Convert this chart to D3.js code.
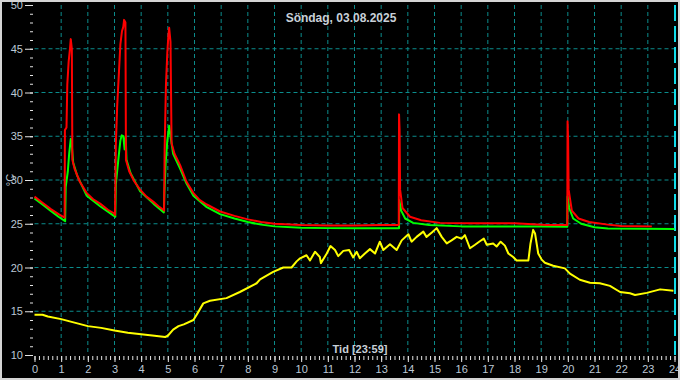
<!DOCTYPE html>
<html>
<head>
<meta charset="utf-8">
<script src="https://cdn.jsdelivr.net/npm/d3@7"></script>
<style>
  html, body { margin: 0; padding: 0; background: #000; }
  svg { display: block; }
</style>
</head>
<body>
<div id="chart-area"></div>
<script>
// time in hours, temperature in °C
const redT = [0, 0.3, 0.6, 0.9, 1.13, 1.14, 1.2, 1.23, 1.28, 1.33, 1.36, 1.40, 1.42, 1.5, 1.7, 1.96, 2.2, 2.46, 2.75, 2.98,
  3.02, 3.05, 3.10, 3.17, 3.22, 3.28, 3.33, 3.36, 3.41, 3.43, 3.55, 3.75, 3.96, 4.2, 4.46, 4.65, 4.83,
  4.86, 4.88, 4.93, 4.98, 5.02, 5.05, 5.10, 5.14, 5.25, 5.46, 5.7, 5.96, 6.2, 6.46, 6.96, 7.5, 8, 8.5, 9, 10, 11, 12, 13, 13.66,
  13.67, 13.69, 13.71, 13.8, 14.08, 14.5, 15.2, 16.3, 17, 18, 19.2, 19.98,
  19.99, 20.01, 20.03, 20.15, 20.4, 20.8, 21.5, 22, 23.15];
const redV = [28.1, 27.4, 26.7, 26.1, 25.7, 35.7, 36.0, 40.9, 43.5, 45.0, 46.1, 45.0, 32.3, 31.3, 29.8, 28.5, 27.8, 27.3, 26.6, 26.2,
  26.0, 34.0, 38.4, 42.5, 45.5, 47.0, 47.5, 48.3, 48.0, 32.3, 31.0, 29.8, 28.9, 28.1, 27.5, 27.0, 26.6,
  26.5, 33.5, 40.9, 44.5, 46.5, 47.4, 45.8, 34.2, 33.0, 31.7, 29.8, 28.5, 27.7, 27.2, 26.4, 25.9, 25.5, 25.2, 25.0, 24.85, 24.8, 24.8, 24.85, 24.85,
  37.5, 35.8, 28.9, 26.8, 25.8, 25.4, 25.1, 25.05, 25.05, 25.05, 24.85, 24.85,
  36.7, 34.6, 28.9, 26.5, 25.6, 25.2, 24.9, 24.75, 24.7];

const greenT = [0, 0.3, 0.6, 0.9, 1.15, 1.17, 1.25, 1.30, 1.36, 1.39, 1.45, 1.6, 1.96, 2.46, 2.98,
  3.03, 3.05, 3.15, 3.22, 3.27, 3.33, 3.38, 3.42, 3.45, 3.6, 3.96, 4.46, 4.85,
  4.87, 4.92, 4.98, 5.05, 5.10, 5.20, 5.46, 5.7, 5.96, 6.46, 6.96, 7.5, 8, 8.5, 9, 10, 11, 12, 13, 13.67,
  13.68, 13.75, 13.9, 14.2, 14.8, 16, 17, 18, 19, 19.98,
  19.99, 20.05, 20.2, 20.5, 21, 21.5, 24];
const greenV = [27.9, 27.2, 26.5, 25.8, 25.3, 29.2, 31.0, 33.0, 34.7, 34.3, 32.0, 30.5, 28.2, 27.0, 25.9,
  25.8, 29.5, 32.5, 34.5, 35.1, 35.0, 33.5, 35.0, 32.3, 30.8, 28.7, 27.3, 26.3,
  28.5, 32.0, 34.5, 36.2, 35.0, 33.0, 31.3, 29.6, 28.2, 26.9, 26.1, 25.6, 25.2, 24.9, 24.7, 24.55, 24.5, 24.5, 24.5, 24.5,
  27.7, 26.5, 25.6, 25.1, 24.85, 24.7, 24.7, 24.7, 24.7, 24.65,
  28.1, 26.8, 25.6, 25.0, 24.6, 24.45, 24.4];

const yellowT = [0, 0.3, 0.5, 1.0, 1.5, 2.0, 2.5, 3.0, 3.5, 4.0, 4.5, 4.9, 5.0, 5.2, 5.4, 5.6, 5.96, 6.1, 6.33, 6.58,
  7.2, 7.7, 8.33, 8.46, 8.95, 9.33, 9.64, 9.83, 9.96, 10.2, 10.33, 10.52, 10.7, 10.74, 10.96, 11.1, 11.27, 11.39,
  11.58, 11.8, 11.95, 12.08, 12.2, 12.39, 12.58, 12.77, 12.95, 13.08, 13.33, 13.58, 13.77, 14.02, 14.14, 14.33,
  14.58, 14.7, 14.9, 15.08, 15.27, 15.46, 15.64, 15.83, 16.02, 16.14, 16.33, 16.52, 16.7, 16.85, 16.96, 17.2,
  17.33, 17.48, 17.64, 17.77, 17.95, 18.08, 18.52, 18.6, 18.7, 18.77, 18.89, 19.02, 19.14, 19.45, 19.89, 20.08,
  20.45, 20.83, 21.2, 21.58, 21.96, 22.33, 22.52, 22.96, 23.46, 23.96];
const yellowV = [14.6, 14.6, 14.4, 14.1, 13.7, 13.3, 13.1, 12.8, 12.55, 12.36, 12.2, 12.06, 12.2, 12.9, 13.3, 13.5, 14.0, 14.7, 15.9, 16.2,
  16.5, 17.2, 18.2, 18.65, 19.5, 20.0, 20.0, 20.7, 21.05, 21.4, 20.8, 21.8, 21.2, 20.5, 21.6, 22.45, 22.0, 21.3,
  21.9, 22.0, 21.15, 21.8, 21.05, 21.6, 22.1, 21.6, 22.95, 22.0, 22.65, 22.0, 23.1, 23.8, 22.95, 23.5,
  24.1, 23.5, 24.0, 24.5, 23.5, 22.75, 23.1, 23.5, 23.3, 23.7, 22.2, 22.6, 23.0, 23.3, 22.6, 22.75,
  22.4, 22.95, 22.5, 21.6, 21.2, 20.8, 20.8, 22.75, 24.3, 23.9, 21.6, 20.9, 20.55, 20.2, 19.9, 19.3,
  18.6, 18.26, 18.2, 17.9, 17.2, 17.05, 16.86, 17.1, 17.5, 17.35];

const TITLE = "Söndag, 03.08.2025",
    X_LABEL = "Tid [23:59]",
    Y_LABEL = "°C";

const WIDTH = 680,
    HEIGHT = 380,
    LEFT = 34.5,
    RIGHT = 674.5,
    TOP = 5,
    BOTTOM = 355,
    GRID = '#0b8c8c',
    LABEL = '#bcc8d6',
    TICK = '#e4e4e4',
    FONT = '"Liberation Sans", Arial, sans-serif';

let svg = d3.select("#chart-area")
    .append("svg")
    .attr("width", WIDTH)
    .attr("height", HEIGHT)
    .style("background", "#000")
    .style("font-family", FONT);

let x = d3.scaleLinear().domain([0, 24]).range([LEFT, RIGHT]);
let y = d3.scaleLinear().domain([10, 50]).range([BOTTOM, TOP]);

// grid
svg.append("g")
    .selectAll("line")
    .data(d3.range(1, 24))
    .join("line")
    .attr("x1", d => x(d)).attr("x2", d => x(d))
    .attr("y1", TOP).attr("y2", BOTTOM)
    .attr("stroke", GRID)
    .attr("stroke-dasharray", "4,3");

svg.append("g")
    .selectAll("line")
    .data(d3.range(15, 50, 5))
    .join("line")
    .attr("x1", LEFT).attr("x2", RIGHT)
    .attr("y1", d => y(d)).attr("y2", d => y(d))
    .attr("stroke", GRID)
    .attr("stroke-dasharray", "4,3");

// last hour line is brighter
svg.append("line")
    .attr("x1", x(24) + 0.5).attr("x2", x(24) + 0.5)
    .attr("y1", TOP).attr("y2", BOTTOM)
    .attr("stroke", "#10dcea")
    .attr("stroke-width", 2)
    .attr("stroke-dasharray", "16,5");

// axes
function styleAxis(g) {
    g.select(".domain").remove();
    g.selectAll(".tick line").attr("stroke", TICK);
    g.selectAll(".tick text").attr("fill", LABEL).style("font-size", "11px").style("font-family", FONT);
}

svg.append("g")
    .attr("transform", `translate(${LEFT - 1.5},0)`)
    .call(d3.axisLeft(y).tickValues(d3.range(10, 51)).tickSize(3).tickFormat(""))
    .call(styleAxis);

svg.append("g")
    .attr("transform", `translate(${LEFT - 1.5},0)`)
    .call(d3.axisLeft(y).tickValues(d3.range(10, 51, 5)).tickSize(8).tickPadding(2))
    .call(styleAxis);

svg.append("g")
    .attr("transform", `translate(0,${BOTTOM + 1})`)
    .call(d3.axisBottom(x).tickValues(d3.range(0, 24.01, 1 / 6)).tickSize(4).tickFormat(""))
    .call(styleAxis);

svg.append("g")
    .attr("transform", `translate(0,${BOTTOM + 1})`)
    .call(d3.axisBottom(x).tickValues(d3.range(0, 25)).tickSize(6).tickPadding(3))
    .call(styleAxis);

// series
function series(ts, vs, color) {
    let pts = ts.map((t, i) => [t, vs[i]]);
    svg.append("path")
        .datum(pts)
        .attr("fill", "none")
        .attr("stroke", color)
        .attr("stroke-width", 2)
        .attr("stroke-linejoin", "round")
        .attr("d", d3.line().x(d => x(d[0])).y(d => y(d[1])));
}

series(yellowT, yellowV, "#ffff00");
series(greenT, greenV, "#00ff00");
series(redT, redV, "#ff0000");

// texts
svg.append("text")
    .attr("x", 341).attr("y", 22)
    .attr("text-anchor", "middle")
    .attr("fill", "#c8d0d8")
    .style("font-size", "12px").style("font-weight", "bold")
    .text(TITLE);

svg.append("text")
    .attr("x", 360).attr("y", 353)
    .attr("text-anchor", "middle")
    .attr("fill", "#c8d0d8")
    .style("font-size", "11px").style("font-weight", "bold")
    .text(X_LABEL);

svg.append("text")
    .attr("transform", "translate(14,180) rotate(-90)")
    .attr("text-anchor", "middle")
    .attr("fill", LABEL)
    .style("font-size", "11px")
    .text(Y_LABEL);

// frame
svg.append("rect")
    .attr("x", 1).attr("y", 1)
    .attr("width", WIDTH - 2).attr("height", HEIGHT - 2)
    .attr("fill", "none")
    .attr("stroke", "#d4d4d4")
    .attr("stroke-width", 2);
</script>
</body>
</html>
